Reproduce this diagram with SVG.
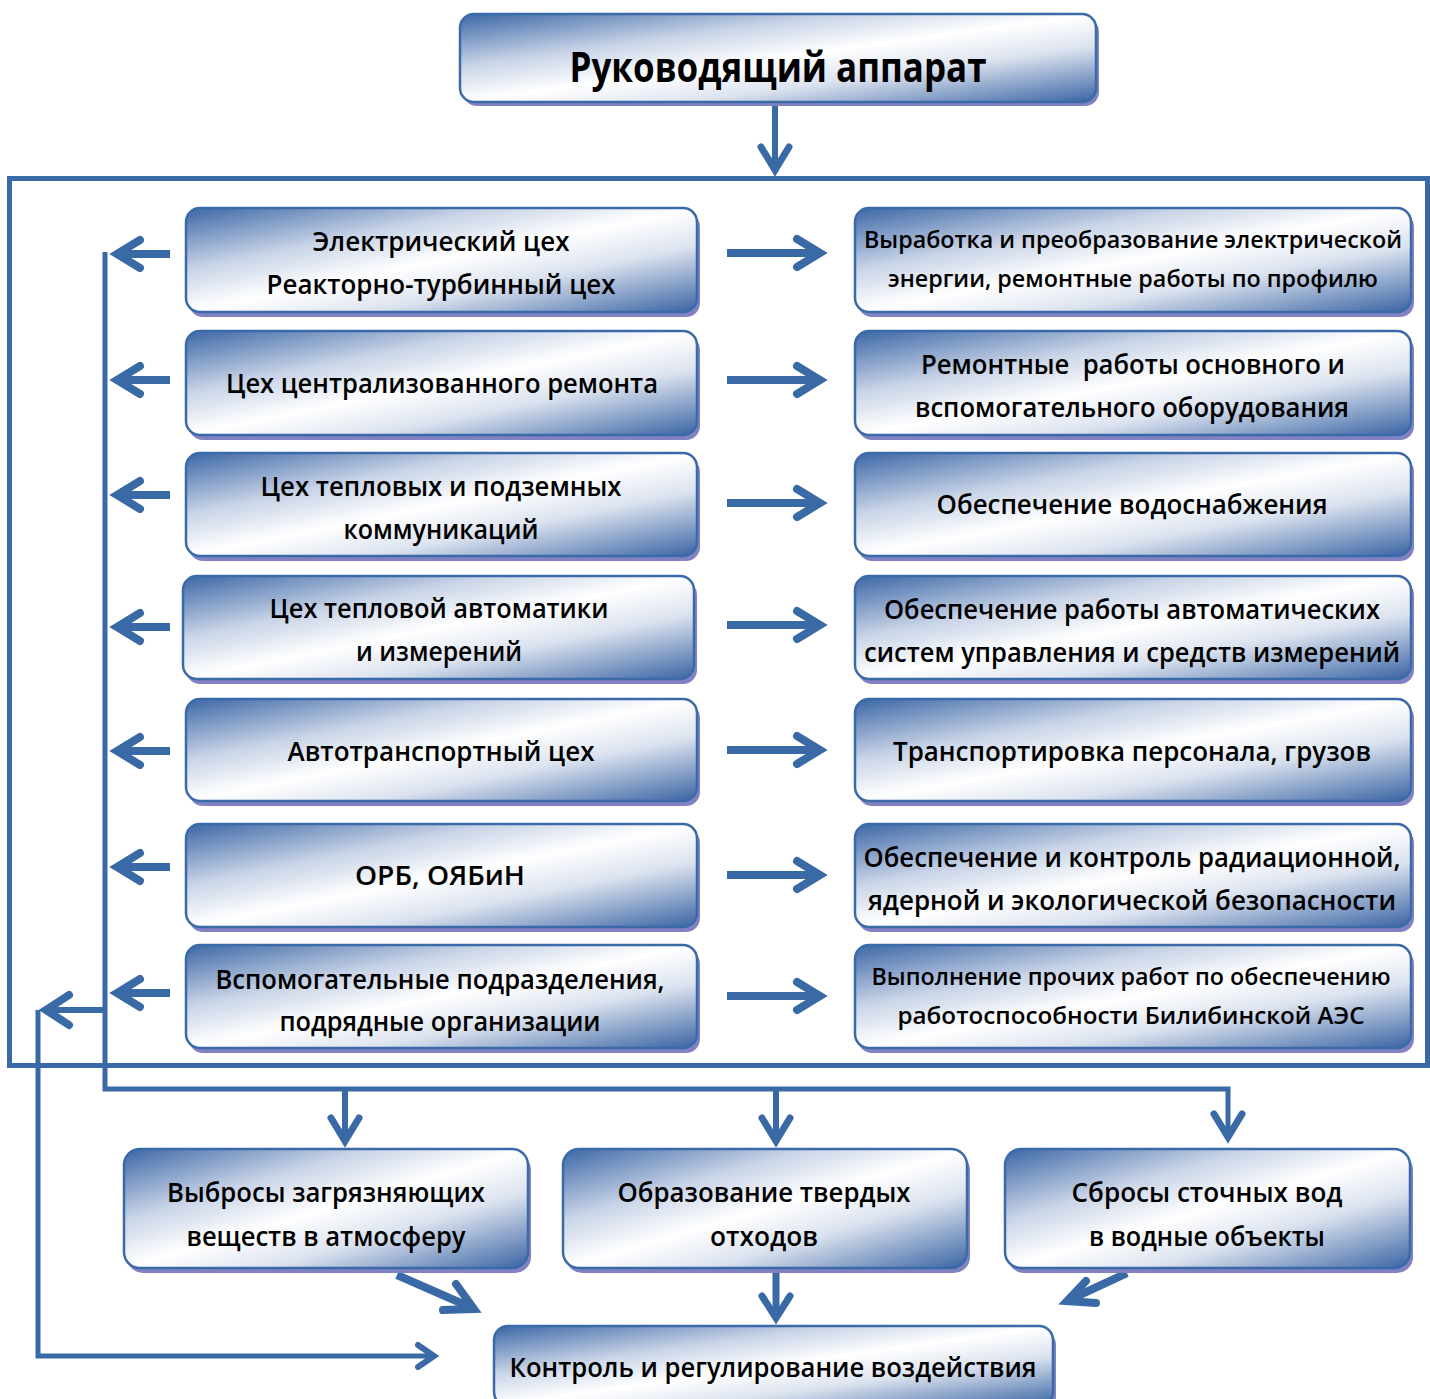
<svg xmlns="http://www.w3.org/2000/svg" width="1430" height="1399" viewBox="0 0 1430 1399">
<defs>
<linearGradient id="g" x1="0" y1="0" x2="1" y2="1">
<stop offset="0" stop-color="#3b66a6"/>
<stop offset="0.3" stop-color="#c9d4e7"/>
<stop offset="0.5" stop-color="#ffffff"/>
<stop offset="0.68" stop-color="#dce3ef"/>
<stop offset="1" stop-color="#3a64a4"/>
</linearGradient>
<style>
.sh{fill:#8282c2}
.bx{fill:url(#g);stroke:#3a6aa8;stroke-width:2.5}
.t{font-family:"Open Sans","Noto Sans","DejaVu Sans",sans-serif;font-weight:600;font-size:27px;fill:#000;text-anchor:middle}
.s{font-size:23.5px}
.big{font-size:42px;font-weight:700}
.ln{fill:none;stroke:#3a6aa6;stroke-width:5}
.st{fill:none;stroke:#3a6aa6;stroke-width:8}
.hd{fill:none;stroke:#3a6aa6;stroke-width:8;stroke-linecap:round;stroke-linejoin:miter;stroke-miterlimit:10}
</style>
</defs>
<rect width="1430" height="1399" fill="#fff"/>

<g id="connectors">
<rect x="9.5" y="178.5" width="1418" height="887" class="ln"/>
<line x1="775" y1="104" x2="775" y2="168" class="st" style="stroke-width:6"/>
<polyline points="761,147 775,170 789,147" class="hd" style="stroke-width:7"/>
<polyline points="105,252 105,1089 1228,1089 1228,1135" class="ln"/>
<line x1="345" y1="1089" x2="345" y2="1138" class="st" style="stroke-width:6"/>
<polyline points="331,1118 345,1141 359,1118" class="hd" style="stroke-width:7"/>
<line x1="776" y1="1089" x2="776" y2="1138" class="st" style="stroke-width:6"/>
<polyline points="762,1118 776,1141 790,1118" class="hd" style="stroke-width:7"/>
<polyline points="1214,1114 1228,1137 1242,1114" class="hd" style="stroke-width:7"/>
<g>
<line x1="116" y1="254" x2="170" y2="254" class="st"/><polyline points="140,240 117,254 140,268" class="hd"/>
<line x1="116" y1="380" x2="170" y2="380" class="st"/><polyline points="140,366 117,380 140,394" class="hd"/>
<line x1="116" y1="495" x2="170" y2="495" class="st"/><polyline points="140,481 117,495 140,509" class="hd"/>
<line x1="116" y1="627" x2="170" y2="627" class="st"/><polyline points="140,613 117,627 140,641" class="hd"/>
<line x1="116" y1="751" x2="170" y2="751" class="st"/><polyline points="140,737 117,751 140,765" class="hd"/>
<line x1="116" y1="867" x2="170" y2="867" class="st"/><polyline points="140,853 117,867 140,881" class="hd"/>
<line x1="116" y1="993" x2="170" y2="993" class="st"/><polyline points="140,979 117,993 140,1007" class="hd"/>
</g>
<g>
<line x1="727" y1="253" x2="818" y2="253" class="st"/><polyline points="797,239 820,253 797,267" class="hd"/>
<line x1="727" y1="380" x2="818" y2="380" class="st"/><polyline points="797,366 820,380 797,394" class="hd"/>
<line x1="727" y1="503" x2="818" y2="503" class="st"/><polyline points="797,489 820,503 797,517" class="hd"/>
<line x1="727" y1="625" x2="818" y2="625" class="st"/><polyline points="797,611 820,625 797,639" class="hd"/>
<line x1="727" y1="750" x2="818" y2="750" class="st"/><polyline points="797,736 820,750 797,764" class="hd"/>
<line x1="727" y1="875" x2="818" y2="875" class="st"/><polyline points="797,861 820,875 797,889" class="hd"/>
<line x1="727" y1="996" x2="818" y2="996" class="st"/><polyline points="797,982 820,996 797,1010" class="hd"/>
</g>
<line x1="105" y1="1010" x2="46" y2="1010" class="ln" style="stroke-width:6"/>
<polyline points="69,995 46,1010 69,1025" class="hd" style="stroke-width:8"/>
<polyline points="38,1010 38,1356 432,1356" class="ln"/>
<polyline points="418,1345 434,1356 418,1367" class="hd" style="stroke-width:6"/>
<line x1="397" y1="1275" x2="470" y2="1307" class="st"/>
<polyline points="456,1284 474,1309 443,1310" class="hd"/>
<line x1="776" y1="1270" x2="776" y2="1316" class="st" style="stroke-width:7"/>
<polyline points="762,1296 776,1318 790,1296" class="hd" style="stroke-width:7"/>
<line x1="1127" y1="1273" x2="1071" y2="1299" class="st"/>
<polyline points="1086,1281 1067,1301 1096,1303" class="hd"/>
</g>

<g id="n-top"><rect x="463" y="18" width="636" height="88" rx="14" class="sh"/><rect x="460" y="14" width="636" height="88" rx="14" class="bx"/>
<text x="778" y="82" class="t big" textLength="417" lengthAdjust="spacingAndGlyphs">Руководящий аппарат</text></g>

<g id="n-l1"><rect x="189" y="213" width="511" height="104" rx="14" class="sh"/><rect x="186" y="208" width="511" height="104" rx="14" class="bx"/>
<text x="441" y="251" class="t" textLength="257" lengthAdjust="spacingAndGlyphs">Электрический цех</text>
<text x="441" y="294" class="t" textLength="349" lengthAdjust="spacingAndGlyphs">Реакторно-турбинный цех</text></g>

<g id="n-l2"><rect x="189" y="336" width="511" height="104" rx="14" class="sh"/><rect x="186" y="331" width="511" height="104" rx="14" class="bx"/>
<text x="442" y="393" class="t" textLength="432" lengthAdjust="spacingAndGlyphs">Цех централизованного ремонта</text></g>

<g id="n-l3"><rect x="189" y="458" width="511" height="103" rx="14" class="sh"/><rect x="186" y="453" width="511" height="103" rx="14" class="bx"/>
<text x="441" y="496" class="t" textLength="361" lengthAdjust="spacingAndGlyphs">Цех тепловых и подземных</text>
<text x="441" y="539" class="t" textLength="195" lengthAdjust="spacingAndGlyphs">коммуникаций</text></g>

<g id="n-l4"><rect x="186" y="581" width="511" height="103" rx="14" class="sh"/><rect x="183" y="576" width="511" height="103" rx="14" class="bx"/>
<text x="439" y="618" class="t" textLength="339" lengthAdjust="spacingAndGlyphs">Цех тепловой автоматики</text>
<text x="439" y="661" class="t" textLength="166" lengthAdjust="spacingAndGlyphs">и измерений</text></g>

<g id="n-l5"><rect x="189" y="704" width="511" height="102" rx="14" class="sh"/><rect x="186" y="699" width="511" height="102" rx="14" class="bx"/>
<text x="441" y="761" class="t" textLength="307" lengthAdjust="spacingAndGlyphs">Автотранспортный цех</text></g>

<g id="n-l6"><rect x="189" y="829" width="511" height="103" rx="14" class="sh"/><rect x="186" y="824" width="511" height="103" rx="14" class="bx"/>
<text x="440" y="885" class="t" textLength="170" lengthAdjust="spacingAndGlyphs">ОРБ, ОЯБиН</text></g>

<g id="n-l7"><rect x="189" y="950" width="511" height="103" rx="14" class="sh"/><rect x="186" y="945" width="511" height="103" rx="14" class="bx"/>
<text x="440" y="989" class="t" textLength="449" lengthAdjust="spacingAndGlyphs">Вспомогательные подразделения,</text>
<text x="440" y="1031" class="t" textLength="321" lengthAdjust="spacingAndGlyphs">подрядные организации</text></g>

<g id="n-r1"><rect x="858" y="213" width="556" height="104" rx="14" class="sh"/><rect x="855" y="208" width="556" height="104" rx="14" class="bx"/>
<text x="1133" y="248" class="t s" textLength="538" lengthAdjust="spacingAndGlyphs">Выработка и преобразование электрической</text>
<text x="1133" y="287" class="t s" textLength="490" lengthAdjust="spacingAndGlyphs">энергии, ремонтные работы по профилю</text></g>

<g id="n-r2"><rect x="858" y="336" width="556" height="104" rx="14" class="sh"/><rect x="855" y="331" width="556" height="104" rx="14" class="bx"/>
<text x="1133" y="374" class="t" textLength="424" lengthAdjust="spacingAndGlyphs" xml:space="preserve">Ремонтные  работы основного и</text>
<text x="1132" y="417" class="t" textLength="434" lengthAdjust="spacingAndGlyphs">вспомогательного оборудования</text></g>

<g id="n-r3"><rect x="858" y="458" width="556" height="103" rx="14" class="sh"/><rect x="855" y="453" width="556" height="103" rx="14" class="bx"/>
<text x="1132" y="514" class="t" textLength="391" lengthAdjust="spacingAndGlyphs">Обеспечение водоснабжения</text></g>

<g id="n-r4"><rect x="858" y="581" width="556" height="103" rx="14" class="sh"/><rect x="855" y="576" width="556" height="103" rx="14" class="bx"/>
<text x="1132" y="619" class="t" textLength="496" lengthAdjust="spacingAndGlyphs">Обеспечение работы автоматических</text>
<text x="1132" y="662" class="t" textLength="536" lengthAdjust="spacingAndGlyphs">систем управления и средств измерений</text></g>

<g id="n-r5"><rect x="858" y="704" width="556" height="102" rx="14" class="sh"/><rect x="855" y="699" width="556" height="102" rx="14" class="bx"/>
<text x="1132" y="761" class="t" textLength="478" lengthAdjust="spacingAndGlyphs">Транспортировка персонала, грузов</text></g>

<g id="n-r6"><rect x="858" y="829" width="556" height="103" rx="14" class="sh"/><rect x="855" y="824" width="556" height="103" rx="14" class="bx"/>
<text x="1132" y="867" class="t" textLength="537" lengthAdjust="spacingAndGlyphs">Обеспечение и контроль радиационной,</text>
<text x="1132" y="910" class="t" textLength="528" lengthAdjust="spacingAndGlyphs">ядерной и экологической безопасности</text></g>

<g id="n-r7"><rect x="858" y="950" width="556" height="103" rx="14" class="sh"/><rect x="855" y="945" width="556" height="103" rx="14" class="bx"/>
<text x="1131" y="985" class="t s" textLength="519" lengthAdjust="spacingAndGlyphs">Выполнение прочих работ по обеспечению</text>
<text x="1131" y="1024" class="t s" textLength="467" lengthAdjust="spacingAndGlyphs">работоспособности Билибинской АЭС</text></g>

<g id="n-b1"><rect x="127" y="1154" width="404" height="119" rx="16" class="sh"/><rect x="124" y="1149" width="404" height="119" rx="16" class="bx"/>
<text x="326" y="1202" class="t" textLength="318" lengthAdjust="spacingAndGlyphs">Выбросы загрязняющих</text>
<text x="326" y="1246" class="t" textLength="279" lengthAdjust="spacingAndGlyphs">веществ в атмосферу</text></g>

<g id="n-b2"><rect x="566" y="1154" width="404" height="119" rx="16" class="sh"/><rect x="563" y="1149" width="404" height="119" rx="16" class="bx"/>
<text x="764" y="1202" class="t" textLength="293" lengthAdjust="spacingAndGlyphs">Образование твердых</text>
<text x="764" y="1246" class="t" textLength="108" lengthAdjust="spacingAndGlyphs">отходов</text></g>

<g id="n-b3"><rect x="1008" y="1154" width="405" height="119" rx="16" class="sh"/><rect x="1005" y="1149" width="405" height="119" rx="16" class="bx"/>
<text x="1207" y="1202" class="t" textLength="271" lengthAdjust="spacingAndGlyphs">Сбросы сточных вод</text>
<text x="1207" y="1246" class="t" textLength="236" lengthAdjust="spacingAndGlyphs">в водные объекты</text></g>

<g id="n-ctrl"><rect x="497" y="1331" width="559" height="80" rx="14" class="sh"/><rect x="494" y="1326" width="559" height="80" rx="14" class="bx"/>
<text x="773" y="1377" class="t" textLength="527" lengthAdjust="spacingAndGlyphs">Контроль и регулирование воздействия</text></g>
</svg>
